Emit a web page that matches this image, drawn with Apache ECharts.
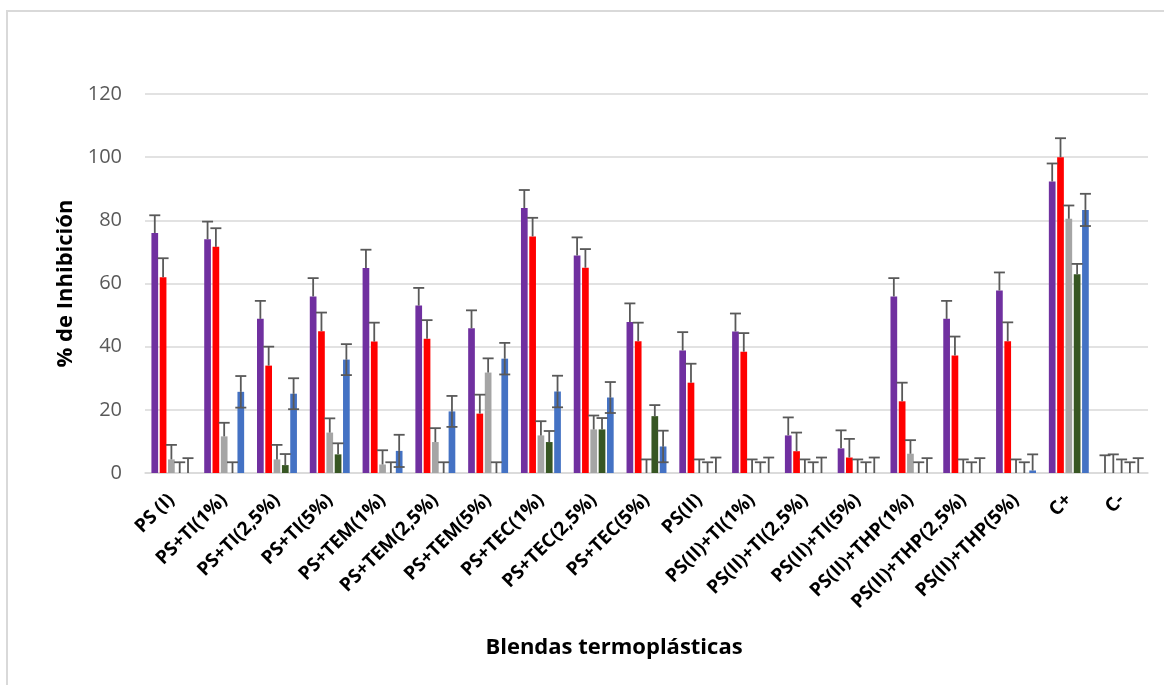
<!DOCTYPE html>
<html>
<head>
<meta charset="utf-8">
<script src="https://cdn.jsdelivr.net/npm/echarts@6/dist/echarts.min.js"></script>
<style>
html,body{margin:0;padding:0;background:#fff;}
#chart{width:1164px;height:685px;}
</style>
</head>
<body>
<div id="chart"></div>
<script>
var categories = ['PS (I)','PS+TI(1%)','PS+TI(2,5%)','PS+TI(5%)','PS+TEM(1%)','PS+TEM(2,5%)','PS+TEM(5%)','PS+TEC(1%)','PS+TEC(2,5%)','PS+TEC(5%)','PS(II)','PS(II)+TI(1%)','PS(II)+TI(2,5%)','PS(II)+TI(5%)','PS(II)+THP(1%)','PS(II)+THP(2,5%)','PS(II)+THP(5%)','C+','C-'];

var purpleVals = [76, 74, 48.8, 55.9, 64.9, 53, 45.8, 83.9, 68.9, 47.8, 38.8, 44.8, 11.9, 7.8, 55.9, 48.8, 57.8, 92.3, 0];
var purpleErr  = [5.6, 5.6, 5.7, 5.8, 5.8, 5.6, 5.7, 5.7, 5.7, 5.9, 5.8, 5.7, 5.7, 5.7, 5.8, 5.7, 5.7, 5.7, 5.6];

var redVals = [62, 71.6, 34, 44.9, 41.6, 42.5, 18.8, 74.9, 65, 41.7, 28.6, 38.4, 6.9, 4.9, 22.7, 37.2, 41.7, 100, 0];
var redErr  = [6, 5.9, 6, 5.9, 6, 5.9, 6, 5.9, 5.9, 5.9, 6, 5.9, 5.9, 5.9, 5.9, 6, 6, 6, 5.9];

var grayVals = [4.3, 11.6, 4.3, 12.8, 2.7, 9.8, 31.8, 11.9, 13.8, 0, 0, 0, 0, 0, 6.1, 0, 0, 80.5, 0];
var grayErr  = [4.6, 4.3, 4.6, 4.5, 4.5, 4.4, 4.5, 4.5, 4.4, 4.3, 4.3, 4.3, 4.3, 4.3, 4.3, 4.3, 4.3, 4.2, 4.3];

var greenVals = [0, 0, 2.5, 5.9, 0, 0, 0, 9.8, 13.8, 18, 0, 0, 0, 0, 0, 0, 0, 62.9, 0];
var greenErr  = [3.4, 3.4, 3.5, 3.5, 3.4, 3.4, 3.4, 3.5, 3.6, 3.5, 3.4, 3.4, 3.4, 3.4, 3.4, 3.4, 3.4, 3.3, 3.4];

var blueVals = [0, 25.7, 25.1, 35.9, 7, 19.5, 36.2, 25.8, 23.9, 8.4, 0, 0, 0, 0, 0, 0, 0.8, 83.3, 0];
var blueErr  = [4.7, 5, 4.9, 4.9, 5.1, 4.9, 5, 5, 4.9, 5, 4.9, 4.9, 4.9, 4.9, 4.7, 4.7, 5.1, 5.1, 4.7];

var yTicks = [0, 20, 40, 60, 80, 100, 120];

var seriesDefs = [
  {name: 'S1', color: '#7030A0', vals: purpleVals, err: purpleErr, both: false},
  {name: 'S2', color: '#FF0000', vals: redVals, err: redErr, both: false},
  {name: 'S3', color: '#A5A5A5', vals: grayVals, err: grayErr, both: false},
  {name: 'S4', color: '#375623', vals: greenVals, err: greenErr, both: false},
  {name: 'S5', color: '#4472C4', vals: blueVals, err: blueErr, both: true}
];

var BAR_W = 6.7;
var BAR_GAP = 0.24;
var N = seriesDefs.length;
var ERR_COLOR = '#595959';
var CAP = 5.5;

function makeErrRender(si, both) {
  return function (params, api) {
    var cat = api.value(0), v = api.value(1), e = api.value(2);
    var base = api.coord([cat, v]);
    var top = api.coord([cat, v + e]);
    var g = BAR_W * BAR_GAP;
    var total = N * BAR_W + (N - 1) * g;
    var x = base[0] - total / 2 + si * (BAR_W + g) + BAR_W / 2;
    var st = {stroke: ERR_COLOR, lineWidth: 1.8};
    var children = [
      {type: 'line', shape: {x1: x, y1: base[1], x2: x, y2: top[1]}, style: st},
      {type: 'line', shape: {x1: x - CAP, y1: top[1], x2: x + CAP, y2: top[1]}, style: st}
    ];
    if (both && v - e >= 0) {
      var bot = api.coord([cat, v - e]);
      children.push({type: 'line', shape: {x1: x, y1: base[1], x2: x, y2: bot[1]}, style: st});
      children.push({type: 'line', shape: {x1: x - CAP, y1: bot[1], x2: x + CAP, y2: bot[1]}, style: st});
    }
    return {type: 'group', children: children};
  };
}

var series = [];
seriesDefs.forEach(function (s) {
  series.push({
    name: s.name, type: 'bar', data: s.vals,
    barWidth: BAR_W, barGap: (BAR_GAP * 100) + '%',
    itemStyle: {color: s.color},
    z: 2
  });
});
seriesDefs.forEach(function (s, si) {
  series.push({
    type: 'custom',
    data: categories.map(function (c, i) { return [i, s.vals[i], s.err[i]]; }),
    encode: {x: 0, y: 1},
    renderItem: makeErrRender(si, s.both),
    z: 5,
    silent: true
  });
});

var chart = echarts.init(document.getElementById('chart'));
chart.setOption({
  backgroundColor: '#fff',
  animation: false,
  grid: {left: 145, right: 16, top: 94, bottom: 212, containLabel: false},
  xAxis: {
    type: 'category',
    data: categories,
    axisLine: {lineStyle: {color: '#D9D9D9', width: 1.5}},
    axisTick: {show: false},
    axisLabel: {
      interval: 0, rotate: 45, margin: 24,
      fontFamily: 'Open Sans', fontWeight: 'bold', fontSize: 19, color: '#000'
    }
  },
  yAxis: {
    type: 'value', min: 0, max: 120, interval: 20,
    axisLine: {show: false}, axisTick: {show: false},
    axisLabel: {fontFamily: 'Open Sans', fontSize: 20, color: '#595959', margin: 23},
    splitLine: {lineStyle: {color: '#D9D9D9', width: 1.5}},
    name: '% de Inhibición', nameLocation: 'middle', nameGap: 67,
    nameTextStyle: {fontFamily: 'Open Sans', fontWeight: 'bold', fontSize: 22, color: '#000'}
  },
  graphic: [
    {type: 'rect', shape: {x: 7, y: 11, width: 1300, height: 800}, style: {fill: 'none', stroke: '#D9D9D9', lineWidth: 2}, silent: true},
    {type: 'text', x: 614, y: 648, style: {text: 'Blendas termoplásticas', font: 'bold 22px "Open Sans"', fill: '#000', align: 'center', verticalAlign: 'middle'}}
  ],
  series: series
});
</script>
</body>
</html>
